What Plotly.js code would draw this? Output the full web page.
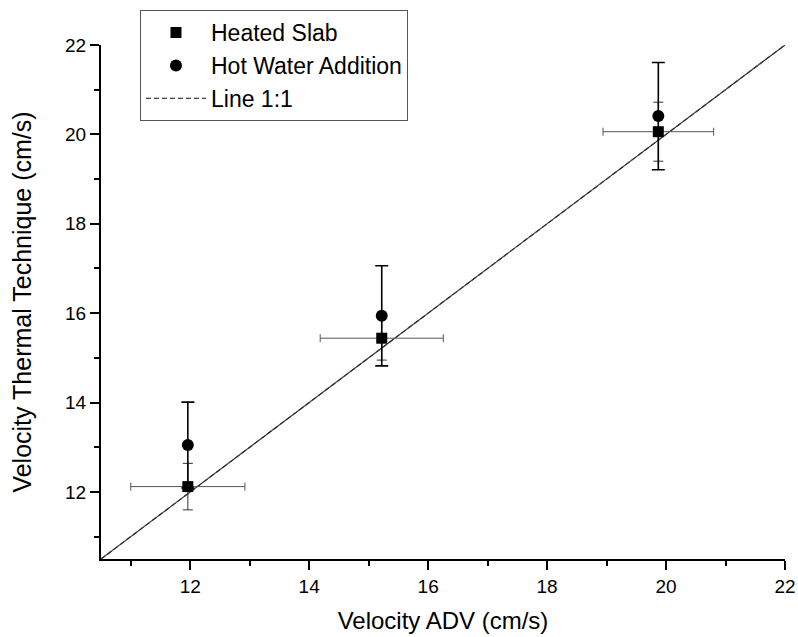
<!DOCTYPE html>
<html>
<head>
<meta charset="utf-8">
<script src="https://cdn.plot.ly/plotly-3.0.1.min.js"></script>
<style>
  html, body { margin: 0; padding: 0; background: #fff; }
  #chart { width: 798px; height: 637px; }
</style>
</head>
<body>
<div id="chart"></div>
<script>
// ---- Data ----
const adv = [11.96, 15.22, 19.87];            // Velocity ADV (cm/s)
const advErr = [0.96, 1.035, 0.93];           // horizontal error (heated slab)

const slabY = [12.12, 15.44, 20.06];          // Heated Slab
const slabErr = [0.52, 0.49, 0.66];

const hotY = [13.05, 15.94, 20.41];           // Hot Water Addition
const hotErr = [0.96, 1.12, 1.20];

const lineX = [10.5, 22];                     // Line 1:1 extent
const lineY = [10.5, 22];

const tickVals = [12, 14, 16, 18, 20, 22];

const FONT = '"Liberation Sans", Arial, sans-serif';

const traces = [
  {
    // legend entry of the 1:1 line (dashed sample); covered by the solid line below
    x: lineX, y: lineY, mode: 'lines', name: 'Line 1:1', legendrank: 3,
    line: { color: '#111', width: 1.1, dash: '5px,3px' }, hoverinfo: 'skip'
  },
  {
    x: lineX, y: lineY, mode: 'lines', name: 'Line 1:1 (solid)',
    line: { color: '#333', width: 1.1 }, showlegend: false, hoverinfo: 'skip'
  },
  {
    x: adv, y: slabY, mode: 'markers', name: 'Heated Slab', legendrank: 1,
    marker: { symbol: 'square', size: 11, color: '#000' },
    error_y: { type: 'data', array: slabErr, visible: true, color: '#333', thickness: 1, width: 5 },
    error_x: { type: 'data', array: advErr, visible: true, color: '#555', thickness: 1, width: 4 }
  },
  {
    x: adv, y: hotY, mode: 'markers', name: 'Hot Water Addition', legendrank: 2,
    marker: { symbol: 'circle', size: 12, color: '#000' },
    error_y: { type: 'data', array: hotErr, visible: true, color: '#000', thickness: 1.6, width: 6.5 }
  }
];

const axisCommon = {
  range: [10.5, 22],
  showgrid: false, zeroline: false,
  showline: true, linecolor: '#000', linewidth: 2,
  ticks: 'outside', ticklen: 9, tickwidth: 2, tickcolor: '#000',
  tickvals: tickVals,
  tickfont: { family: FONT, size: 19, color: '#000' },
  minor: { ticks: 'outside', ticklen: 5, tickwidth: 2, tickcolor: '#000', dtick: 1, tick0: 11, showgrid: false },
  mirror: false,
  automargin: false
};

const layout = {
  width: 798, height: 637,
  margin: { l: 101, r: 13, t: 45, b: 78, autoexpand: false },
  paper_bgcolor: '#fff', plot_bgcolor: '#fff',
  font: { family: FONT, color: '#000' },
  showlegend: true,
  legend: {
    x: 0.057, y: 1.068, xanchor: 'left', yanchor: 'top',
    bgcolor: '#fff', bordercolor: '#555', borderwidth: 1,
    font: { family: FONT, size: 23, color: '#000' },
    itemwidth: 60, tracegroupgap: 0, traceorder: 'normal'
  },
  xaxis: Object.assign({}, axisCommon, {
    title: { text: 'Velocity ADV (cm/s)', font: { family: FONT, size: 24, color: '#000' }, standoff: 16 }
  }),
  yaxis: Object.assign({}, axisCommon, {
    title: { text: 'Velocity Thermal Technique (cm/s)', font: { family: FONT, size: 25, color: '#000' }, standoff: 26 }
  })
};

Plotly.newPlot('chart', traces, layout, { displayModeBar: false, staticPlot: true });
</script>
</body>
</html>
